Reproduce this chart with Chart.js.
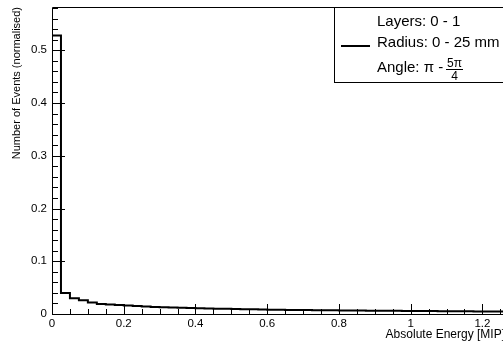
<!DOCTYPE html>
<html>
<head>
<meta charset="utf-8">
<script src="https://cdn.jsdelivr.net/npm/chart.js@4"></script>
<style>
  html, body { margin: 0; padding: 0; background: #fff; overflow: hidden; }
  #wrap { width: 506px; height: 341px; }
</style>
</head>
<body>
<div id="wrap"><canvas id="histo" width="506" height="341"></canvas></div>
<script>
// histogram contents (normalised), one value per 0.025 MIP bin
const binWidth = 0.025;
const eventFraction = [
  0.528, 0.040, 0.030, 0.026, 0.022, 0.019, 0.018, 0.017, 0.016, 0.015,
  0.014, 0.0135, 0.013, 0.0125, 0.012, 0.0115, 0.011, 0.0105, 0.010, 0.0098,
  0.0095, 0.0090, 0.0088, 0.0085, 0.0082, 0.0080, 0.0078, 0.0076, 0.0074, 0.0072,
  0.0070, 0.0069, 0.0068, 0.0066, 0.0065, 0.0063, 0.0062, 0.0060, 0.0060, 0.0058,
  0.0057, 0.0056, 0.0055, 0.0053, 0.0052, 0.0051, 0.0050, 0.0049, 0.0048, 0.0047,
  0.0046, 0.0045
];
const xTicks = [0, 0.2, 0.4, 0.6, 0.8, 1, 1.2];
const yTicks = [0, 0.1, 0.2, 0.3, 0.4, 0.5];
const xMinorStep = 0.05;
const yMinorStep = 0.02;
const legendLines = ['Layers: 0 - 1', 'Radius: 0 - 25 mm', 'Angle: \u03c0 - '];

// bin edges -> stepped points
const points = eventFraction.map((v, i) => ({ x: i * binWidth, y: v }));
points.push({ x: eventFraction.length * binWidth, y: eventFraction[eventFraction.length - 1] });

const font = '"Liberation Sans", Arial, sans-serif';

// ROOT style frame with inward ticks
const rootFrame = {
  id: 'rootFrame',
  afterDatasetsDraw(chart) {
    const { ctx, chartArea: a, scales: { x, y } } = chart;
    ctx.save();
    ctx.strokeStyle = '#000';
    ctx.lineWidth = 1;
    ctx.beginPath();
    ctx.rect(a.left + 0.5, a.top + 0.5, a.right - a.left, a.bottom - a.top);
    for (let k = 0; k * xMinorStep <= x.max + 1e-9; k++) {
      const px = Math.round(x.getPixelForValue(k * xMinorStep)) + 0.5;
      const len = k % 4 === 0 ? 10 : 5;
      ctx.moveTo(px, a.bottom);
      ctx.lineTo(px, a.bottom - len);
    }
    for (let k = 0; k * yMinorStep <= y.max + 1e-9; k++) {
      const py = Math.round(y.getPixelForValue(k * yMinorStep)) + 0.5;
      const len = k % 5 === 0 ? 13 : 6;
      ctx.moveTo(a.left, py);
      ctx.lineTo(a.left + len, py);
    }
    ctx.stroke();
    ctx.restore();
  },
  afterDraw(chart) {
    const ctx = chart.ctx;
    ctx.save();
    // legend box
    ctx.fillStyle = '#fff';
    ctx.fillRect(334.5, 7.5, 200, 75);
    ctx.strokeStyle = '#000';
    ctx.lineWidth = 1;
    ctx.strokeRect(334.5, 7.5, 200, 75);
    ctx.lineWidth = 2;
    ctx.beginPath();
    ctx.moveTo(341, 46);
    ctx.lineTo(370, 46);
    ctx.stroke();
    ctx.fillStyle = '#000';
    ctx.font = '15px ' + font;
    ctx.textBaseline = 'alphabetic';
    ctx.textAlign = 'left';
    ctx.fillText(legendLines[0], 377, 26);
    ctx.fillText(legendLines[1], 377, 47);
    ctx.fillText(legendLines[2], 377, 72);
    // fraction 5pi / 4
    ctx.font = '12px ' + font;
    ctx.textAlign = 'center';
    ctx.fillText('5\u03c0', 454.5, 67);
    ctx.fillText('4', 454.5, 80);
    ctx.lineWidth = 1;
    ctx.beginPath();
    ctx.moveTo(446, 69.5);
    ctx.lineTo(463, 69.5);
    ctx.stroke();
    ctx.restore();
  }
};

new Chart(document.getElementById('histo').getContext('2d'), {
  type: 'line',
  data: {
    datasets: [{
      data: points,
      stepped: 'before',
      borderColor: '#000',
      borderWidth: 2,
      pointRadius: 0,
      fill: false
    }]
  },
  options: {
    responsive: false,
    animation: false,
    devicePixelRatio: 1,
    layout: { padding: { top: 7, right: 1, left: 0, bottom: 0 } },
    plugins: { legend: { display: false }, tooltip: { enabled: false } },
    scales: {
      x: {
        type: 'linear',
        min: 0,
        max: 1.263,
        afterBuildTicks: s => { s.ticks = xTicks.map(v => ({ value: v })); },
        afterFit: s => { s.height = 27; s.paddingLeft = 0; s.paddingRight = 0; },
        grid: { display: false, drawTicks: false },
        border: { display: false },
        ticks: {
          padding: 3,
          color: '#000',
          font: { family: font, size: 11.5 },
          maxRotation: 0,
          callback: v => String(v)
        },
        title: {
          display: true,
          text: 'Absolute Energy [MIP]',
          align: 'end',
          color: '#000',
          padding: 0,
          font: { family: font, size: 12, lineHeight: 1.05 }
        }
      },
      y: {
        min: 0,
        max: 0.582,
        afterBuildTicks: s => { s.ticks = yTicks.map(v => ({ value: v })); },
        afterFit: s => { s.width = 52; s.paddingTop = 0; s.paddingBottom = 0; },
        grid: { display: false, drawTicks: false },
        border: { display: false },
        ticks: {
          padding: 5,
          color: '#000',
          font: { family: font, size: 11.5 },
          callback: v => String(v)
        },
        title: {
          display: true,
          text: 'Number of Events (normalised)',
          align: 'end',
          color: '#000',
          padding: { top: 10, bottom: 0 },
          font: { family: font, size: 11 }
        }
      }
    }
  },
  plugins: [rootFrame]
});
</script>
</body>
</html>
